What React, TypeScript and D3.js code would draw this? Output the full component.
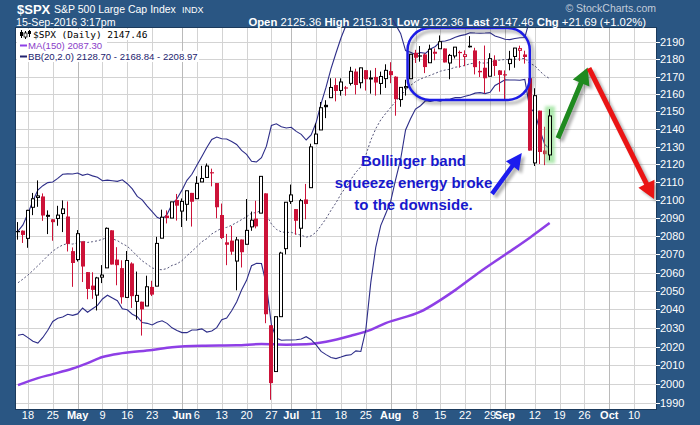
import React from "react";
import * as d3 from "d3";

// ---- S&P 500 daily sessions ----
const dates = [
  "2016-04-14","2016-04-15","2016-04-18","2016-04-19","2016-04-20","2016-04-21","2016-04-22","2016-04-25","2016-04-26","2016-04-27","2016-04-28","2016-04-29",
  "2016-05-02","2016-05-03","2016-05-04","2016-05-05","2016-05-06","2016-05-09","2016-05-10","2016-05-11","2016-05-12","2016-05-13","2016-05-16","2016-05-17","2016-05-18","2016-05-19","2016-05-20","2016-05-23","2016-05-24","2016-05-25","2016-05-26","2016-05-27","2016-05-31",
  "2016-06-01","2016-06-02","2016-06-03","2016-06-06","2016-06-07","2016-06-08","2016-06-09","2016-06-10","2016-06-13","2016-06-14","2016-06-15","2016-06-16","2016-06-17","2016-06-20","2016-06-21","2016-06-22","2016-06-23","2016-06-24","2016-06-27","2016-06-28","2016-06-29","2016-06-30",
  "2016-07-01","2016-07-05","2016-07-06","2016-07-07","2016-07-08","2016-07-11","2016-07-12","2016-07-13","2016-07-14","2016-07-15","2016-07-18","2016-07-19","2016-07-20","2016-07-21","2016-07-22","2016-07-25","2016-07-26","2016-07-27","2016-07-28","2016-07-29",
  "2016-08-01","2016-08-02","2016-08-03","2016-08-04","2016-08-05","2016-08-08","2016-08-09","2016-08-10","2016-08-11","2016-08-12","2016-08-15","2016-08-16","2016-08-17","2016-08-18","2016-08-19","2016-08-22","2016-08-23","2016-08-24","2016-08-25","2016-08-26","2016-08-29","2016-08-30","2016-08-31",
  "2016-09-01","2016-09-02","2016-09-06","2016-09-07","2016-09-08","2016-09-09","2016-09-12","2016-09-13","2016-09-14","2016-09-15",
];

const open = [
  2082.89,2083.10,2078.83,2096.05,2101.52,2102.09,2091.49,2089.37,2089.84,2092.57,2090.93,2071.82,
  2067.17,2077.18,2060.30,2052.95,2047.77,2057.55,2062.63,2083.29,2067.17,2062.50,2046.53,2065.04,2044.38,2044.21,2041.88,2052.23,2052.65,2078.93,2091.44,2090.06,2100.13,
  2093.94,2097.71,2104.07,2100.83,2110.18,2112.71,2115.65,2109.57,2091.75,2076.65,2077.60,2066.36,2078.20,2075.58,2085.19,2089.75,2092.80,2103.81,2031.45,2006.67,2036.09,2073.17,
  2099.34,2095.05,2084.43,2100.42,2106.97,2131.72,2139.50,2153.81,2157.88,2165.13,2162.04,2163.79,2166.10,2172.91,2166.47,2173.71,2168.97,2169.81,2166.05,2168.83,
  2173.15,2169.94,2156.81,2163.51,2168.79,2183.76,2182.24,2182.81,2177.97,2183.74,2186.08,2186.24,2177.84,2181.90,2184.24,2181.58,2187.81,2185.09,2173.29,2175.10,2170.19,2179.45,2173.56,
  2171.33,2177.49,2181.61,2185.17,2182.76,2169.08,2120.86,2150.47,2127.86,2125.36,
];
const high = [
  2087.84,2083.22,2094.66,2104.05,2111.05,2103.78,2094.32,2089.37,2096.87,2099.89,2099.30,2073.85,
  2083.42,2077.18,2060.30,2060.23,2057.72,2064.15,2084.87,2083.29,2073.99,2066.79,2071.88,2065.69,2060.61,2044.21,2058.35,2055.58,2079.67,2094.73,2094.30,2099.06,2103.48,
  2100.97,2105.26,2104.07,2113.36,2119.22,2120.55,2117.64,2109.57,2098.12,2081.30,2085.65,2079.62,2078.20,2100.66,2093.66,2099.71,2113.32,2103.81,2031.45,2036.09,2071.46,2098.94,
  2108.71,2095.05,2100.72,2109.08,2131.71,2143.16,2155.40,2156.45,2169.05,2169.05,2168.99,2164.63,2175.63,2174.56,2175.11,2173.71,2173.54,2174.98,2172.85,2177.09,
  2178.29,2170.20,2163.79,2168.19,2182.87,2185.44,2187.66,2183.41,2188.45,2186.28,2193.81,2186.24,2183.08,2187.03,2185.00,2185.15,2193.42,2186.66,2179.00,2187.94,2183.48,2182.27,2173.79,
  2173.56,2184.87,2186.57,2187.87,2184.94,2169.08,2163.30,2150.47,2141.33,2151.31,
];
const low = [
  2078.13,2076.31,2073.65,2091.68,2096.32,2088.52,2081.20,2077.52,2085.80,2082.31,2071.62,2052.28,
  2066.11,2054.89,2045.55,2045.77,2039.45,2054.31,2062.63,2064.46,2053.13,2043.13,2046.53,2040.82,2034.49,2025.91,2041.88,2047.26,2052.65,2078.93,2087.08,2090.06,2088.66,
  2085.10,2088.59,2085.36,2100.83,2110.18,2112.71,2107.73,2089.96,2078.46,2064.10,2069.80,2050.37,2062.84,2075.58,2083.02,2084.36,2092.80,2032.57,1991.68,2006.67,2036.09,2070.00,
  2097.90,2080.86,2074.02,2089.39,2106.97,2131.72,2139.50,2146.21,2157.88,2155.79,2159.07,2159.01,2164.89,2159.75,2163.24,2161.95,2160.18,2159.07,2159.74,2163.49,
  2166.21,2147.58,2152.70,2159.07,2168.79,2177.85,2178.61,2172.00,2177.97,2179.42,2186.08,2178.14,2168.50,2180.46,2175.13,2175.96,2186.80,2171.25,2169.74,2160.39,2170.19,2170.41,2161.35,
  2157.09,2173.59,2175.10,2179.07,2177.49,2127.81,2119.12,2120.27,2119.60,2122.36,
];
const close = [
  2082.78,2080.73,2094.34,2100.80,2102.40,2091.48,2091.58,2087.79,2091.70,2095.15,2075.81,2065.30,
  2081.43,2063.37,2051.12,2050.63,2057.14,2058.69,2084.39,2064.46,2064.11,2046.61,2066.66,2047.21,2047.63,2040.04,2052.32,2048.04,2076.06,2090.54,2090.10,2099.06,2096.95,
  2099.33,2105.26,2099.13,2109.41,2112.13,2119.12,2115.48,2096.07,2079.06,2075.32,2071.50,2077.99,2071.22,2083.25,2088.90,2085.45,2113.32,2037.41,2000.54,2036.09,2070.77,2098.86,
  2102.95,2088.55,2099.73,2097.90,2129.90,2137.16,2152.14,2152.43,2163.75,2161.74,2166.89,2163.78,2173.02,2165.17,2175.03,2168.48,2169.18,2166.58,2170.06,2173.60,
  2170.84,2157.03,2163.79,2164.25,2182.87,2180.89,2181.74,2175.49,2185.79,2184.05,2190.15,2178.15,2182.22,2187.02,2183.87,2182.64,2186.90,2175.44,2172.47,2169.04,2180.38,2176.12,2170.95,
  2170.86,2179.98,2186.48,2186.16,2181.30,2127.81,2159.04,2127.02,2125.77,2147.46,
];
// close of the session before the first one shown (colours the first candle)
const priorClose = 2082.42;

// ---- Bollinger Bands (20, 2.0), one value per session ----
const bbUpper = [
  2082.8,2086.3,2092.6,2099.5,2105.7,2108.1,2109.8,2110.2,2112.2,2114.5,2114.7,2114.6,2115.2,2113.9,2114.6,2113.6,2112.8,2110.9,2111.2,2110.9,2110.5,2111.4,2109.2,2106.3,2102.1,2100.2,2096.7,
  2093.6,2090.5,2089.3,2092.1,2097.8,2100.8,2105.6,2111.1,2114.5,2119.6,2124.5,2129.6,2134.1,2135.5,2134.5,2134.4,2133.0,2131.3,2127.9,2125.7,2121.8,2121.4,2123.8,2130.3,2142.0,2143.0,2141.3,
  2140.6,2141.0,2138.7,2137.0,2133.8,2136.7,2143.7,2154.5,2163.9,2174.6,2183.6,2192.3,2199.6,2207.6,2213.5,2220.0,2221.5,2212.7,2206.5,2204.4,2205.3,2205.3,2200.0,2195.0,2185.0,2184.0,2182.7,
  2183.9,2183.4,2185.9,2187.4,2190.3,2190.6,2191.4,2192.8,2193.7,2194.3,2195.4,2195.2,2195.1,2195.2,2195.4,2193.5,2192.6,2191.6,2191.4,2192.0,2192.5,2192.6,2203.3,2203.1,2206.7,2209.9,2208.97,
];
const bbMiddle = [
  2054.5,2056.5,2058.7,2061.2,2063.8,2066.5,2069.3,2071.8,2073.7,2075.2,2076.0,2075.7,2076.4,2077.3,2076.6,2077.0,2077.5,2078.3,2079.5,2078.6,2077.6,2075.9,2074.5,2071.9,2069.1,2066.5,2064.6,
  2062.6,2061.8,2061.6,2062.3,2064.0,2064.8,2066.6,2069.3,2071.7,2074.3,2077.0,2078.7,2081.3,2082.9,2084.5,2084.9,2086.1,2087.6,2089.2,2090.8,2092.8,2093.1,2094.4,2091.8,2086.8,2083.8,2082.4,
  2082.1,2082.2,2081.2,2080.6,2079.5,2080.2,2082.3,2085.9,2089.8,2094.4,2098.6,2103.4,2107.4,2111.6,2115.6,2118.7,2125.2,2133.7,2140.2,2145.2,2148.9,2152.3,2155.7,2158.9,2162.2,2164.9,2167.1,
  2168.6,2169.7,2170.8,2171.9,2173.1,2173.8,2174.3,2175.4,2175.8,2176.5,2177.4,2177.8,2178.0,2177.7,2178.2,2179.2,2179.5,2179.9,2179.7,2180.0,2180.2,2180.5,2177.6,2176.3,2173.2,2170.6,2168.84,
];
const bbLower = [
  2026.1,2026.6,2024.8,2022.9,2021.9,2024.9,2028.8,2033.5,2035.2,2035.9,2037.4,2036.8,2037.6,2040.8,2038.5,2040.4,2042.2,2045.7,2047.7,2046.2,2044.7,2040.4,2039.8,2037.4,2036.1,2032.9,2032.5,
  2031.6,2033.1,2033.9,2032.5,2030.1,2028.7,2027.5,2027.5,2028.9,2029.0,2029.5,2027.8,2028.4,2030.2,2034.5,2035.4,2039.3,2044.0,2050.5,2055.8,2063.8,2065.1,2065.0,2053.2,2031.7,2024.6,2023.4,
  2023.5,2023.5,2023.7,2024.1,2025.3,2023.7,2020.9,2017.4,2015.7,2014.2,2013.6,2014.4,2015.3,2015.6,2017.7,2017.4,2029.0,2054.6,2073.9,2085.9,2092.5,2099.3,2111.5,2122.8,2139.5,2145.8,2151.4,
  2153.3,2156.1,2155.8,2156.4,2155.9,2157.0,2157.1,2157.9,2157.9,2158.7,2159.4,2160.5,2160.8,2160.2,2161.0,2164.9,2166.5,2168.1,2168.0,2168.0,2167.9,2168.4,2151.9,2149.6,2139.6,2131.3,2128.70,
];

// ---- 150-day moving average ----
const maDates = [
  "2016-04-14","2016-04-20","2016-04-25","2016-04-29","2016-05-04","2016-05-09","2016-05-13","2016-05-23","2016-05-27","2016-06-07","2016-06-16","2016-06-23",
  "2016-06-30","2016-07-07","2016-07-13","2016-07-20","2016-07-26","2016-07-29","2016-08-09","2016-08-18","2016-08-25","2016-09-01","2016-09-09","2016-09-15",
];
const maValues = [
  1999.5,2003.2,2005.3,2008.3,2011.2,2014.4,2016.5,2018.2,2019.7,2020.5,2020.7,2021.4,
  2021.0,2021.2,2022.6,2025.8,2029.0,2032.6,2038.8,2050.5,2060.5,2069.8,2079.2,2087.30,
];

// ---- axes ----
const priceTicks = [1990,2000,2010,2020,2030,2040,2050,2060,2070,2080,2090,2100,2110,2120,2130,2140,2150,2160,2170,2180,2190];
const tickDates = [
  "2016-04-18","2016-04-25","2016-05-02","2016-05-09","2016-05-16","2016-05-23","2016-06-01","2016-06-06","2016-06-13","2016-06-20","2016-06-27","2016-07-01","2016-07-11",
  "2016-07-18","2016-07-25","2016-08-01","2016-08-08","2016-08-15","2016-08-22","2016-08-29","2016-09-01","2016-09-12","2016-09-19","2016-09-26","2016-10-03","2016-10-10",
];
const tickTexts = ["18","25","May","9","16","23","Jun","6","13","20","27","Jul","11","18","25","Aug","8","15","22","29","Sep","12","19","26","Oct","10"];

const FONT = "'Liberation Sans', Arial, Helvetica, sans-serif";
const FRAME = "#2a5683";
const RED = "#cc1238";

// session number of a date; dates past the last session count weekdays forward
function sessionIndex(d: string): number {
  const i = dates.indexOf(d);
  if (i >= 0) return i;
  let n = dates.length - 1;
  let t = new Date(dates[n] + "T00:00:00Z").getTime();
  const target = new Date(d + "T00:00:00Z").getTime();
  while (t < target) {
    t += 86400000;
    const wd = new Date(t).getUTCDay();
    if (wd !== 0 && wd !== 6) n++;
  }
  return n;
}

function arrowPath(x1: number, y1: number, x2: number, y2: number, w: number, hl: number, hw: number) {
  const len = Math.hypot(x2 - x1, y2 - y1);
  const ux = (x2 - x1) / len, uy = (y2 - y1) / len;
  const px = -uy, py = ux;
  const bx = x2 - ux * hl, by = y2 - uy * hl;
  const pts = [
    [x1 + px * w / 2, y1 + py * w / 2],
    [bx + px * w / 2, by + py * w / 2],
    [bx + px * hw, by + py * hw],
    [x2, y2],
    [bx - px * hw, by - py * hw],
    [bx - px * w / 2, by - py * w / 2],
    [x1 - px * w / 2, y1 - py * w / 2],
  ];
  return "M" + pts.map((p) => p[0].toFixed(1) + "," + p[1].toFixed(1)).join("L") + "Z";
}

export default function App() {
  const W = 700, H = 425;
  const L = 16, R = 656, T = 28, B = 409;
  const x = d3.scaleLinear().domain([-0.4, 128.4]).range([L, R]);
  const y = d3.scaleLog().domain([1990, 2190]).range([403, 42]);

  const last = dates.length - 1;
  const chg = close[last] - close[last - 1];
  const pct = (chg / close[last - 1]) * 100;

  const bandLine = d3.line<number>().x((_, i) => x(i)).y((v) => y(v));
  const maLine = d3
    .line<number>()
    .x((_, k) => x(sessionIndex(maDates[k])))
    .y((v) => y(v))
    .curve(d3.curveMonotoneX);

  // annotations placed in session / price units
  const box = { s0: 78.4, s1: 103.0, p0: 2198.1, p1: 2156.6 };
  const blueArrow = arrowPath(x(95.4), y(2103.5), x(101.4), y(2126.4), 4.5, 16, 8);
  const greenArrow = arrowPath(x(108.66), y(2134.8), x(114.66), y(2175.3), 5, 17, 9);
  const redArrow = arrowPath(x(114.9), y(2174.9), x(128.0), y(2100.7), 5, 17, 9);

  const ticks = tickDates.map((d, k) => ({ s: sessionIndex(d), text: tickTexts[k], month: isNaN(Number(tickTexts[k])) }));

  return (
    <svg width={W} height={H} style={{ position: "fixed", left: 0, top: 0, display: "block" }} fontFamily={FONT}>
      <defs>
        <clipPath id="plotClip">
          <rect x={L} y={T} width={R - L} height={B - T} />
        </clipPath>
        <clipPath id="bandClip">
          <rect x={L} y={20} width={R - L} height={B - 20} />
        </clipPath>
        <filter id="soft" x="-20%" y="-20%" width="140%" height="140%">
          <feGaussianBlur stdDeviation="1.6" />
        </filter>
        <filter id="glow" x="-100%" y="-20%" width="300%" height="140%">
          <feGaussianBlur stdDeviation="1.5" />
        </filter>
      </defs>

      {/* frame */}
      <rect x={0} y={0} width={W} height={H} fill={FRAME} />
      <rect x={L} y={T} width={R - L} height={B - T} fill="#fff" />

      {/* grid */}
      <g clipPath="url(#plotClip)">
        {priceTicks.map((p) => (
          <line key={p} x1={L} x2={R} y1={Math.round(y(p)) + 0.5} y2={Math.round(y(p)) + 0.5} stroke="#d3d3d3" />
        ))}
        {ticks.map((t) => (
          <line key={t.s} x1={Math.round(x(t.s)) + 0.5} x2={Math.round(x(t.s)) + 0.5} y1={T} y2={B} stroke={t.month ? "#bababa" : "#d3d3d3"} />
        ))}
      </g>

      {/* moving average and bands */}
      <g clipPath="url(#plotClip)">
        <path d={maLine(maValues) || ""} fill="none" stroke="#8e3fe6" strokeWidth={2.5} />
        <path d={bandLine(bbMiddle) || ""} fill="none" stroke="#55557a" strokeWidth={1} strokeDasharray="2,2" />
      </g>
      <g clipPath="url(#bandClip)">
        <path d={bandLine(bbUpper) || ""} fill="none" stroke="#2d2d88" strokeWidth={1.1} />
        <path d={bandLine(bbLower) || ""} fill="none" stroke="#2d2d88" strokeWidth={1.1} />
      </g>

      {/* candles */}
      <g clipPath="url(#plotClip)">
        {dates.map((d, i) => {
          const cx = Math.round(x(i));
          const o = open[i], c = close[i];
          const prev = i === 0 ? priorClose : close[i - 1];
          const col = c < prev ? RED : "#000";
          const yo = y(o), yc = y(c), yh = y(high[i]), yl = y(low[i]);
          const top = Math.min(yo, yc), bot = Math.max(yo, yc);
          const hollow = c > o;
          const isLast = i === last;
          return (
            <g key={d}>
              {isLast && (
                <rect x={cx - 5} y={yh - 3} width={10} height={yl - yh + 6} fill="#8fe08f" opacity={0.7} filter="url(#glow)" />
              )}
              <line x1={cx - 0.5} x2={cx - 0.5} y1={yh} y2={yl} stroke={col} strokeWidth={1} />
              {hollow ? (
                <rect x={cx - 1.5} y={top} width={3} height={Math.max(bot - top, 1)} fill={isLast ? "#ccf5c2" : "#fff"} stroke={col} strokeWidth={1} />
              ) : (
                <rect x={cx - 2} y={top} width={4} height={Math.max(bot - top, 1.2)} fill={col} />
              )}
            </g>
          );
        })}
      </g>

      {/* legend */}
      <rect x={L + 1} y={29} width={134} height={11} fill="#fff" />
      <rect x={L + 1} y={40} width={90} height={11} fill="#fff" />
      <rect x={L + 1} y={51} width={182} height={11} fill="#fff" />
      <g>
        <line x1={21.5} x2={21.5} y1={30} y2={38} stroke="#000" />
        <rect x={20} y={32} width={3} height={4} fill="#000" />
        <line x1={25.5} x2={25.5} y1={31} y2={39} stroke="#000" />
        <rect x={24} y={33} width={3} height={4} fill="#fff" stroke="#000" strokeWidth={0.8} />
        <line x1={29.5} x2={29.5} y1={30} y2={37} stroke="#000" />
        <rect x={28} y={31} width={3} height={3} fill="#000" />
      </g>
      <text x={33} y={38} fontFamily="'DejaVu Sans Mono', monospace" fontSize={9.5} fill="#000">
        {`$SPX (Daily) ${close[last].toFixed(2)}`}
      </text>
      <line x1={20} x2={27} y1={45.5} y2={45.5} stroke="#8e3fe6" strokeWidth={2} />
      <text x={28} y={49} fontSize={9.6} fill="#8a3cc8">{`MA(150) ${maValues[maValues.length - 1].toFixed(2)}`}</text>
      <line x1={20} x2={27} y1={56.5} y2={56.5} stroke="#22226e" strokeWidth={2} />
      <text x={28} y={60} fontSize={9.6} fill="#22226e">
        {`BB(20,2.0) ${bbLower[last].toFixed(2)} - ${bbMiddle[last].toFixed(2)} - ${bbUpper[last].toFixed(2)}`}
      </text>

      {/* squeeze box */}
      <rect x={x(box.s0) + 3} y={y(box.p0) + 3} width={x(box.s1) - x(box.s0)} height={y(box.p1) - y(box.p0)} rx={22} ry={22}
        fill="none" stroke="#000" strokeOpacity={0.3} strokeWidth={3} filter="url(#soft)" />
      <rect x={x(box.s0)} y={y(box.p0)} width={x(box.s1) - x(box.s0)} height={y(box.p1) - y(box.p0)} rx={22} ry={22}
        fill="none" stroke="#1c1ce6" strokeWidth={2.5} />

      {/* arrows */}
      {[blueArrow, greenArrow, redArrow].map((p, k) => (
        <path key={k} d={p} transform="translate(3,3)" fill="#000" opacity={0.3} filter="url(#soft)" />
      ))}
      <path d={blueArrow} fill="#1c1cee" />
      <path d={greenArrow} fill="#1f8a1f" />
      <path d={redArrow} fill="#ea1414" />

      {/* annotation text */}
      <g fill="#1818cc" fontSize={15} fontWeight="bold" textAnchor="middle">
        <text x={x(79.6)} y={166}>Bollinger band</text>
        <text x={x(79.6)} y={188}>squeeze energy broke</text>
        <text x={x(79.6)} y={210}>to the downside.</text>
      </g>

      {/* plot edge */}
      <rect x={L - 0.5} y={T - 0.5} width={R - L + 1} height={B - T + 1} fill="none" stroke="#1b3a5c" strokeWidth={1} />

      {/* price axis */}
      {priceTicks.map((p) => (
        <g key={p}>
          <line x1={R} x2={R + 4} y1={Math.round(y(p)) + 0.5} y2={Math.round(y(p)) + 0.5} stroke="#fff" />
          <text x={R + 4} y={y(p) + 4} fontSize={11} fill="#fff">{p}</text>
        </g>
      ))}

      {/* date axis */}
      {ticks.map((t) => (
        <text key={t.s} x={x(t.s)} y={419} fontSize={11} fontWeight={t.month ? "bold" : "normal"} fill="#fff" textAnchor="middle">
          {t.text}
        </text>
      ))}

      {/* header */}
      <text x={17} y={14} fontSize={13} fontWeight="bold" fill="#fff">$SPX</text>
      <text x={54} y={13} fontSize={10.5} fill="#fff">{"S&P 500 Large Cap Index"}</text>
      <text x={182} y={13} fontSize={9} fill="#fff">INDX</text>
      <text x={656} y={12} fontSize={10.5} fill="#c2ccda" textAnchor="end">{"\u00A9 StockCharts.com"}</text>
      <text x={16} y={26} fontSize={10.6} fill="#fff">15-Sep-2016 3:17pm</text>
      <text x={646} y={26} fontSize={11.3} fill="#fff" textAnchor="end">
        <tspan fontWeight="bold">Open</tspan>
        {` ${open[last].toFixed(2)} `}
        <tspan fontWeight="bold">High</tspan>
        {` ${high[last].toFixed(2)} `}
        <tspan fontWeight="bold">Low</tspan>
        {` ${low[last].toFixed(2)} `}
        <tspan fontWeight="bold">Last</tspan>
        {` ${close[last].toFixed(2)} `}
        <tspan fontWeight="bold">Chg</tspan>
        {` +${chg.toFixed(2)} (+${pct.toFixed(2)}%)`}
      </text>
    </svg>
  );
}
